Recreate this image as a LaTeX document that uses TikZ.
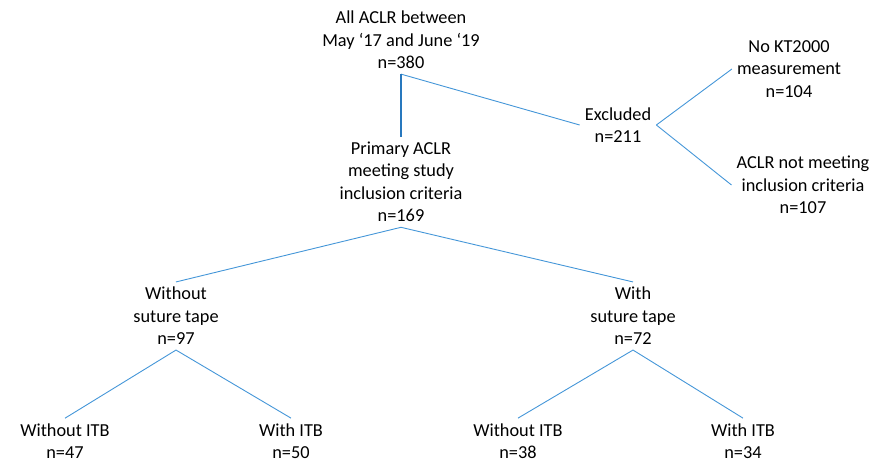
\documentclass[tikz,border=0pt]{standalone}
\usepackage{fontspec}
\setmainfont{Carlito}
\usetikzlibrary{positioning}
\definecolor{treeblue}{RGB}{68,150,216}
\definecolor{trunkblue}{RGB}{40,120,190}

\begin{document}
\begin{tikzpicture}[
  x=1pt, y=-1pt,
  font=\fontsize{18.3}{22.5}\selectfont,
  txt/.style={align=center, inner sep=5pt, text=black},
  link/.style={draw=treeblue, line width=0.9pt},
  trunk/.style={draw=trunkblue, line width=2pt}
]
\useasboundingbox (0,0) rectangle (870,462);

% ---------------- top: all cases and exclusions ----------------
\node[txt] (all) at (401,40) {All ACLR between\\May ‘17 and June ‘19\\n=380};
\node[txt] (excl) at (618,125) {Excluded\\n=211};
\node[txt] (nokt) at (789,69) {No KT2000\\measurement\\n=104};
\node[txt] (notmeet) at (803,185) {ACLR not meeting\\inclusion criteria\\n=107};

\draw[link] (all.south) -- (excl.west);
\draw[link] (excl.east) -- (nokt.west);
\draw[link] (excl.east) -- (notmeet.west);

% ---------------- middle: included, split by suture tape ----------------
\node[txt] (prim) at (401,182) {Primary ACLR\\meeting study\\inclusion criteria\\n=169};
\node[txt] (notape) at (176,316) {Without\\suture tape\\n=97};
\node[txt] (tape) at (633,316) {With\\suture tape\\n=72};

\draw[trunk] (all.south) -- (prim.north);
\draw[link] (prim.south) -- (notape.north);
\draw[link] (prim.south) -- (tape.north);

% ---------------- bottom: split by ITB ----------------
\node[txt] (notapenoitb) at (65,441) {Without ITB\\n=47};
\node[txt] (notapeitb) at (291,441) {With ITB\\n=50};
\node[txt] (tapenoitb) at (518,441) {Without ITB\\n=38};
\node[txt] (tapeitb) at (743,441) {With ITB\\n=34};

\draw[link] (notape.south) -- (notapenoitb.north);
\draw[link] (notape.south) -- (notapeitb.north);
\draw[link] (tape.south) -- (tapenoitb.north);
\draw[link] (tape.south) -- (tapeitb.north);

\end{tikzpicture}
\end{document}
